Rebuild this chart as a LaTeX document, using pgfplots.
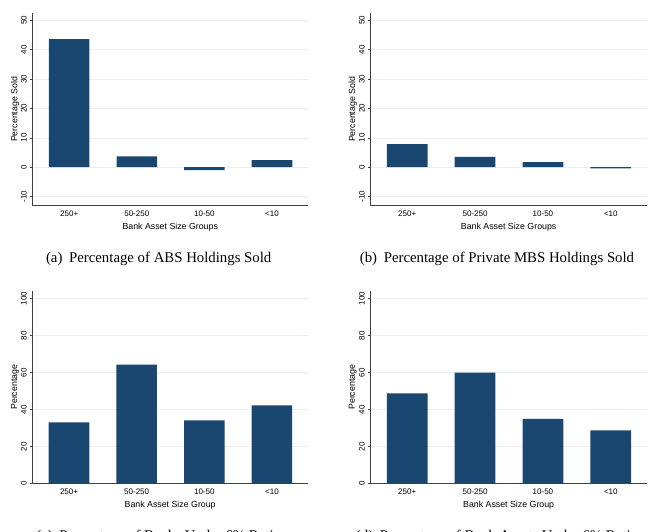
\documentclass[border=0pt]{standalone}
\usepackage{fontspec}
\setmainfont{Liberation Serif}
\setsansfont{Liberation Sans}
\usepackage{pgfplots}
\pgfplotsset{compat=1.18}
\definecolor{statanavy}{RGB}{26,71,111}
\definecolor{gridc}{RGB}{234,240,242}
\pgfplotsset{
  stbar/.style={
    scale only axis,
    axis x line*=bottom,
    axis y line*=left,
    axis line style={black!75, line width=0.6pt},
    ybar, bar width=0.6,
    xmin=-0.543, xmax=3.533,
    xtick={0,1,2,3},
    xticklabels={250+,50-250,10-50,<10},
    x tick style={draw=none},
    y tick style={black!75, line width=0.6pt},
    tick align=outside,
    major tick length=2.5pt,
    ymajorgrids,
    major grid style={gridc, line width=0.6pt},
    xticklabel style={font=\sffamily\fontsize{8}{9}\selectfont, inner sep=0pt, yshift=-3pt},
    yticklabel style={font=\sffamily\fontsize{8}{9}\selectfont, rotate=90, anchor=south, inner sep=3pt},
    xlabel style={font=\sffamily\fontsize{8.8}{10}\selectfont, at={(axis description cs:0.5,-0.112)}, anchor=center},
    ylabel style={font=\sffamily\fontsize{8.8}{10}\selectfont, at={(axis description cs:-0.063,0.5)}, anchor=center},
  },
  topp/.style={
    width=275.5pt, height=192.7pt,
    ymin=-13.1, ymax=52.5,
    ytick={-10,0,10,20,30,40,50},
    yticklabels={{-10},0,10,20,30,40,50},
    xlabel={Bank Asset Size Groups},
    ylabel={Percentage Sold},
  },
  botp/.style={
    width=275.7pt, height=193pt,
    ymin=0, ymax=104.3,
    ytick={0,20,40,60,80,100},
    yticklabels={0,20,40,60,80,100},
    xlabel={Bank Asset Size Group},
    ylabel={Percentage},
  },
}
\begin{document}
\begin{tikzpicture}
\path[use as bounding box] (0,0) rectangle (658pt,-532pt);
% (a)
\begin{axis}[stbar, topp, at={(32.5pt,-205.7pt)}, anchor=south west]
\addplot[fill=statanavy, draw=none] coordinates {(0,43.6) (1,3.7) (2,-1.0) (3,2.4)};
\end{axis}
% (b)
\begin{axis}[stbar, topp, width=276.7pt, at={(370.3pt,-205.7pt)}, anchor=south west]
\addplot[fill=statanavy, draw=none] coordinates {(0,7.9) (1,3.5) (2,1.7) (3,-0.4)};
\end{axis}
% (c)
\begin{axis}[stbar, botp, at={(32.3pt,-483.7pt)}, anchor=south west]
\addplot[fill=statanavy, draw=none] coordinates {(0,33.2) (1,64.3) (2,34.2) (3,42.3)};
\end{axis}
% (d)
\begin{axis}[stbar, botp, width=276.7pt, at={(370.3pt,-483.7pt)}, anchor=south west]
\addplot[fill=statanavy, draw=none] coordinates {(0,48.8) (1,60.0) (2,35.1) (3,28.8)};
\end{axis}
\begin{scope}[every node/.style={font=\fontsize{14.8}{17}\selectfont, inner sep=0pt, anchor=base}]
\node at (158.7pt,-262.3pt) {(a)\hspace{0.45em}Percentage of ABS Holdings Sold};
\node at (497pt,-262.3pt) {(b)\hspace{0.45em}Percentage of Private MBS Holdings Sold};
\node at (158.7pt,-540pt) {(c)\hspace{0.45em}Percentage of Banks Under 6\% Ratio};
\node at (497pt,-540pt) {(d)\hspace{0.45em}Percentage of Bank Assets Under 6\% Ratio};
\end{scope}
\end{tikzpicture}
\end{document}
